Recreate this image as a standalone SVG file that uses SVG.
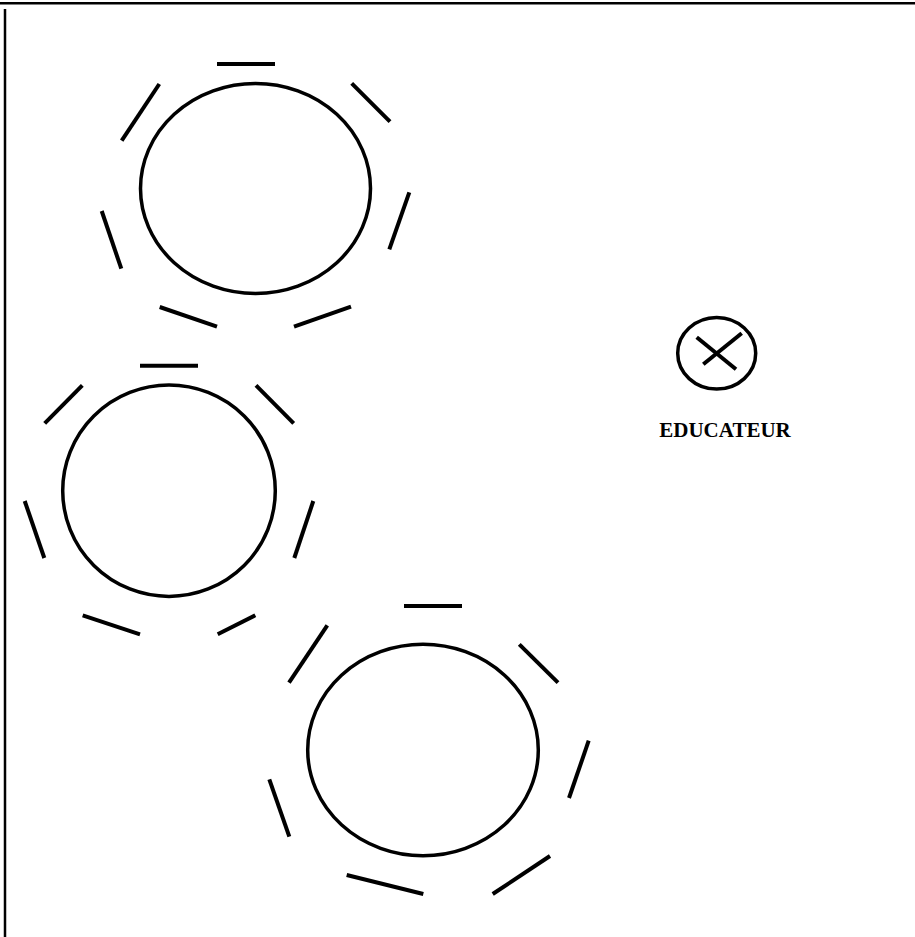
<svg xmlns="http://www.w3.org/2000/svg" width="915" height="937" viewBox="0 0 915 937">
<style>
.f{stroke:#000;fill:none;stroke-width:2.5}
.c{stroke:#000;fill:none;stroke-width:3.5}
.d{stroke:#000;stroke-width:4;fill:none}
.t{font-family:"Liberation Serif",serif;font-weight:bold;font-size:21px;fill:#000}
</style>
<rect width="915" height="937" fill="#fff"/>
<g id="frame">
<line class="f" x1="0" y1="3.3" x2="915" y2="3.3"/>
<line class="f" x1="5" y1="9" x2="5" y2="937"/>
</g>
<g id="group1">
<ellipse class="c" cx="255.5" cy="188.5" rx="115" ry="105"/>
<line class="d" x1="217" y1="64" x2="275" y2="64"/>
<line class="d" x1="159.3" y1="84" x2="121.7" y2="140.7"/>
<line class="d" x1="351.7" y1="83.3" x2="390" y2="121.7"/>
<line class="d" x1="409.3" y1="192.3" x2="389.3" y2="249.3"/>
<line class="d" x1="101.7" y1="211" x2="121.3" y2="268.7"/>
<line class="d" x1="159.7" y1="307" x2="217" y2="326.7"/>
<line class="d" x1="294" y1="326.7" x2="351" y2="306.7"/>
</g>
<g id="group2">
<ellipse class="c" cx="169" cy="490.7" rx="106.3" ry="105.7"/>
<line class="d" x1="140" y1="365.7" x2="198" y2="365.7"/>
<line class="d" x1="82.3" y1="385.3" x2="44.7" y2="423.3"/>
<line class="d" x1="256" y1="385.3" x2="293.7" y2="423.3"/>
<line class="d" x1="24.7" y1="501" x2="44.3" y2="558"/>
<line class="d" x1="313.3" y1="501" x2="294.3" y2="558"/>
<line class="d" x1="82.7" y1="615.3" x2="140" y2="634.3"/>
<line class="d" x1="217.7" y1="634.3" x2="255.3" y2="615.3"/>
</g>
<g id="group3">
<ellipse class="c" cx="423" cy="750" rx="115.3" ry="105.7"/>
<line class="d" x1="404" y1="606" x2="462" y2="606"/>
<line class="d" x1="327.3" y1="625.3" x2="289" y2="682.7"/>
<line class="d" x1="519.3" y1="644.3" x2="558" y2="682.7"/>
<line class="d" x1="588.7" y1="740.7" x2="569" y2="798"/>
<line class="d" x1="269.3" y1="779.3" x2="289.3" y2="836.7"/>
<line class="d" x1="346.7" y1="875" x2="423.3" y2="894"/>
<line class="d" x1="492.7" y1="894" x2="550" y2="856"/>
</g>
<g id="educateur">
<ellipse class="c" cx="716.7" cy="353.3" rx="39" ry="35.8"/>
<line class="d" x1="696.7" y1="337.3" x2="736" y2="369.3"/>
<line class="d" x1="741.7" y1="333.3" x2="703.3" y2="364.3"/>
<text class="t" x="725" y="436.7" text-anchor="middle">EDUCATEUR</text>
</g>
<g id="connectors"/>
</svg>
